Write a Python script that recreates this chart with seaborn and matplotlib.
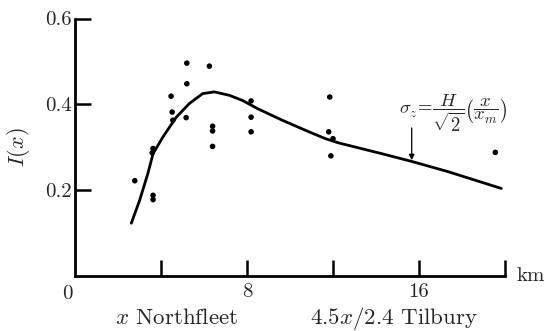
import matplotlib
matplotlib.use("Agg")
import matplotlib.pyplot as plt
import seaborn as sns
import pandas as pd

# Fitted curve
curve_x = [2.62, 3.01, 3.39, 3.63, 4.09, 4.71, 5.32, 5.94, 6.48, 7.18, 7.79,
           8.49, 9.64, 10.88, 11.65, 12.27, 14.27, 15.66, 17.36, 19.83]
curve_y = [0.123, 0.177, 0.239, 0.285, 0.324, 0.370, 0.402, 0.425, 0.429, 0.421, 0.409,
           0.390, 0.363, 0.336, 0.320, 0.310, 0.285, 0.267, 0.243, 0.204]

# Observations
obs_x = [2.78, 3.63, 3.59, 3.63, 3.63, 4.47, 4.52, 4.55, 5.20, 5.20, 5.17,
         6.25, 6.40, 6.40, 6.40, 8.19, 8.19, 8.19, 11.85, 11.80, 12.00, 11.90, 19.55]
obs_y = [0.222, 0.297, 0.287, 0.188, 0.178, 0.419, 0.382, 0.363, 0.496, 0.448, 0.369,
         0.489, 0.349, 0.338, 0.302, 0.408, 0.370, 0.336, 0.417, 0.336, 0.320, 0.280, 0.288]

x_ticks = [4, 8, 12, 16, 20]
x_tick_labels = ["", "8", "", "16", ""]
y_ticks = [0.2, 0.4, 0.6]
y_tick_labels = ["0.2", "0.4", "0.6"]

sns.set_theme(style="white")
plt.rcParams["font.family"] = ["cmr10", "DejaVu Serif"]
plt.rcParams["mathtext.fontset"] = "cm"
plt.rcParams["font.size"] = 14

fig = plt.figure(figsize=(5.49, 3.31), dpi=100)
ax = fig.add_axes([75 / 549, 1 - 276 / 331, (505 - 75) / 549, (276 - 18.5) / 331])

curve = pd.DataFrame({"x": curve_x, "y": curve_y})
obs = pd.DataFrame({"x": obs_x, "y": obs_y})
sns.lineplot(data=curve, x="x", y="y", ax=ax, color="black", linewidth=2.0, sort=False)
sns.scatterplot(data=obs, x="x", y="y", ax=ax, color="black", s=16, edgecolor="none")

ax.set_xlim(0, 20)
ax.set_ylim(0, 0.6)
for s in ["top", "right"]:
    ax.spines[s].set_visible(False)
for s in ["left", "bottom"]:
    ax.spines[s].set_color("black")
    ax.spines[s].set_linewidth(2.0)

ax.set_xticks(x_ticks)
ax.set_xticklabels(x_tick_labels)
ax.set_yticks(y_ticks)
ax.set_yticklabels(y_tick_labels)
ax.tick_params(axis="both", direction="in", length=11.5, width=1.8, color="black",
               labelsize=15, pad=5, bottom=True, left=True)
ax.tick_params(axis="y", pad=2)
ax.set_xlabel("")
ax.set_ylabel(r"$I(x)$", fontsize=16, labelpad=10)

ax.text(-0.37, -0.02, "0", ha="center", va="top", fontsize=15)
ax.text(20.55, 0.0, "km", ha="left", va="center", fontsize=15, clip_on=False)
ax.text(0.237, -0.165, r"$x$ Northfleet", ha="center", va="center", fontsize=16.5,
        transform=ax.transAxes)
ax.text(0.742, -0.165, r"4.5$x$/2.4 Tilbury", ha="center", va="center", fontsize=16.5,
        transform=ax.transAxes)

ax.text(17.6, 0.379, r"$\sigma_z\!=\!\dfrac{H}{\sqrt{2}}\left(\dfrac{x}{x_m}\right)$",
        ha="center", va="center", fontsize=13.5)
ax.annotate("", xy=(15.66, 0.27), xytext=(15.66, 0.345),
            arrowprops=dict(arrowstyle="-|>", color="black", lw=0.9,
                            mutation_scale=8, shrinkA=0, shrinkB=0))

fig.savefig("out.png", dpi=100)
